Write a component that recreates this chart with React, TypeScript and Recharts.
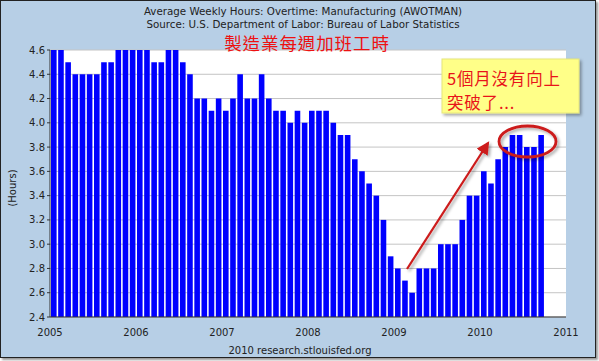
import { BarChart, Bar, XAxis, YAxis, CartesianGrid } from 'recharts';

// Average weekly overtime hours, manufacturing (AWOTMAN), monthly
const h2005 = [4.6, 4.6, 4.5, 4.4, 4.4, 4.4, 4.4, 4.5, 4.5, 4.6, 4.6, 4.6];
const h2006 = [4.6, 4.6, 4.5, 4.5, 4.6, 4.6, 4.5, 4.4, 4.2, 4.2, 4.1, 4.2];
const h2007 = [4.1, 4.2, 4.4, 4.2, 4.2, 4.4, 4.2, 4.1, 4.1, 4.0, 4.1, 4.0];
const h2008 = [4.1, 4.1, 4.1, 4.0, 3.9, 3.9, 3.7, 3.6, 3.5, 3.4, 3.2, 2.9];
const h2009 = [2.8, 2.7, 2.6, 2.8, 2.8, 2.8, 3.0, 3.0, 3.0, 3.2, 3.4, 3.4];
const h2010 = [3.6, 3.5, 3.7, 3.8, 3.9, 3.9, 3.8, 3.8, 3.9];

const years = ['2005', '2006', '2007', '2008', '2009', '2010', '2011'];
const yTicks = [2.4, 2.6, 2.8, 3.0, 3.2, 3.4, 3.6, 3.8, 4.0, 4.2, 4.4, 4.6];

const hours = [...h2005, ...h2006, ...h2007, ...h2008, ...h2009, ...h2010];
// month index from Jan 2005, bar centred mid-month
const data = hours.map((v, i) => ({ month: i + 0.5, hours: v }));
const xTicks = years.map((_, i) => i * 12);

const FONT = '"DejaVu Sans", Verdana, sans-serif';
const CJK = '"Noto Sans CJK TC", "Noto Sans CJK SC", sans-serif';

export default function App() {
  return (
    <div style={{ position: 'absolute', left: 0, top: 0, width: 599, height: 361, background: '#fff' }}>
      {/* frame */}
      <div
        style={{
          position: 'absolute',
          left: 0,
          top: 0,
          width: 594,
          height: 356,
          background: '#b7cfe6',
          border: '1px solid #222',
          boxShadow: '2px 2px 2px #999',
        }}
      />
      <div style={{ position: 'absolute', left: 0, top: 0 }}>
        <BarChart width={599} height={361} data={data} margin={{ top: 50, right: 33, bottom: 14, left: 0 }}>
          <CartesianGrid vertical={false} stroke="#c4c4c4" fill="#fff" />
          <XAxis
            dataKey="month"
            type="number"
            domain={[0, 72]}
            ticks={xTicks}
            interval={0}
            tickFormatter={(t: number) => years[Math.round(t / 12)]}
            height={30}
            tickLine={false}
            tickMargin={6}
            axisLine={{ stroke: '#333' }}
            tick={{ fontSize: 10, fill: '#222', fontFamily: FONT }}
          />
          <YAxis
            type="number"
            domain={[2.4, 4.6]}
            ticks={yTicks}
            interval={0}
            width={50}
            tickSize={3}
            tickMargin={2}
            tickFormatter={(v: number) => v.toFixed(1)}
            axisLine={{ stroke: '#333' }}
            tickLine={{ stroke: '#333' }}
            tick={{ fontSize: 10, fill: '#222', fontFamily: FONT }}
          />
          <Bar dataKey="hours" fill="#0000ff" barSize={5.6} isAnimationActive={false} />
        </BarChart>
      </div>
      {/* titles & annotations */}
      <svg width={599} height={361} style={{ position: 'absolute', left: 0, top: 0, pointerEvents: 'none' }}>
        <defs>
          <marker id="ah" markerWidth="6" markerHeight="6" refX="5" refY="3" orient="auto" markerUnits="strokeWidth">
            <path d="M0,0 L6,3 L0,6 z" fill="#cc1a1a" />
          </marker>
          <filter id="sh" x="-20%" y="-20%" width="150%" height="150%">
            <feDropShadow dx="2" dy="2" stdDeviation="1.5" floodColor="#000" floodOpacity="0.35" />
          </filter>
        </defs>
        <text x={303} y={14.5} textAnchor="middle" fontSize={10.3} fill="#222" fontFamily={FONT}>
          Average Weekly Hours: Overtime: Manufacturing (AWOTMAN)
        </text>
        <text x={303} y={27.5} textAnchor="middle" fontSize={10.3} fill="#222" fontFamily={FONT}>
          Source: U.S. Department of Labor: Bureau of Labor Statistics
        </text>
        <text x={307} y={50} textAnchor="middle" fontSize={17.5} letterSpacing={0.9} fill="#ee1111" fontFamily={CJK}>
          製造業每週加班工時
        </text>
        <text x={300} y={354} textAnchor="middle" fontSize={10} fill="#222" fontFamily={FONT}>
          2010 research.stlouisfed.org
        </text>
        <text transform="translate(16,188) rotate(-90)" textAnchor="middle" fontSize={10} fill="#222" fontFamily={FONT}>
          (Hours)
        </text>

        <line x1={407} y1={269} x2={488} y2={143} stroke="#cc1a1a" strokeWidth={2.2} markerEnd="url(#ah)" filter="url(#sh)" />
        <ellipse cx={527.5} cy={141.5} rx={28.5} ry={15.5} fill="none" stroke="#cc1a1a" strokeWidth={2.8} filter="url(#sh)" />

        <rect x={442} y={59} width={137} height={54} fill="#ffff88" stroke="#e6e67a" strokeWidth={1} filter="url(#sh)" />
        <text x={447} y={85} fontSize={16.5} letterSpacing={0.8} fill="#e8141a" fontFamily={CJK}>
          5個月沒有向上
        </text>
        <text x={447} y={109} fontSize={16.5} letterSpacing={0.8} fill="#e8141a" fontFamily={CJK}>
          突破了...
        </text>
      </svg>
    </div>
  );
}
